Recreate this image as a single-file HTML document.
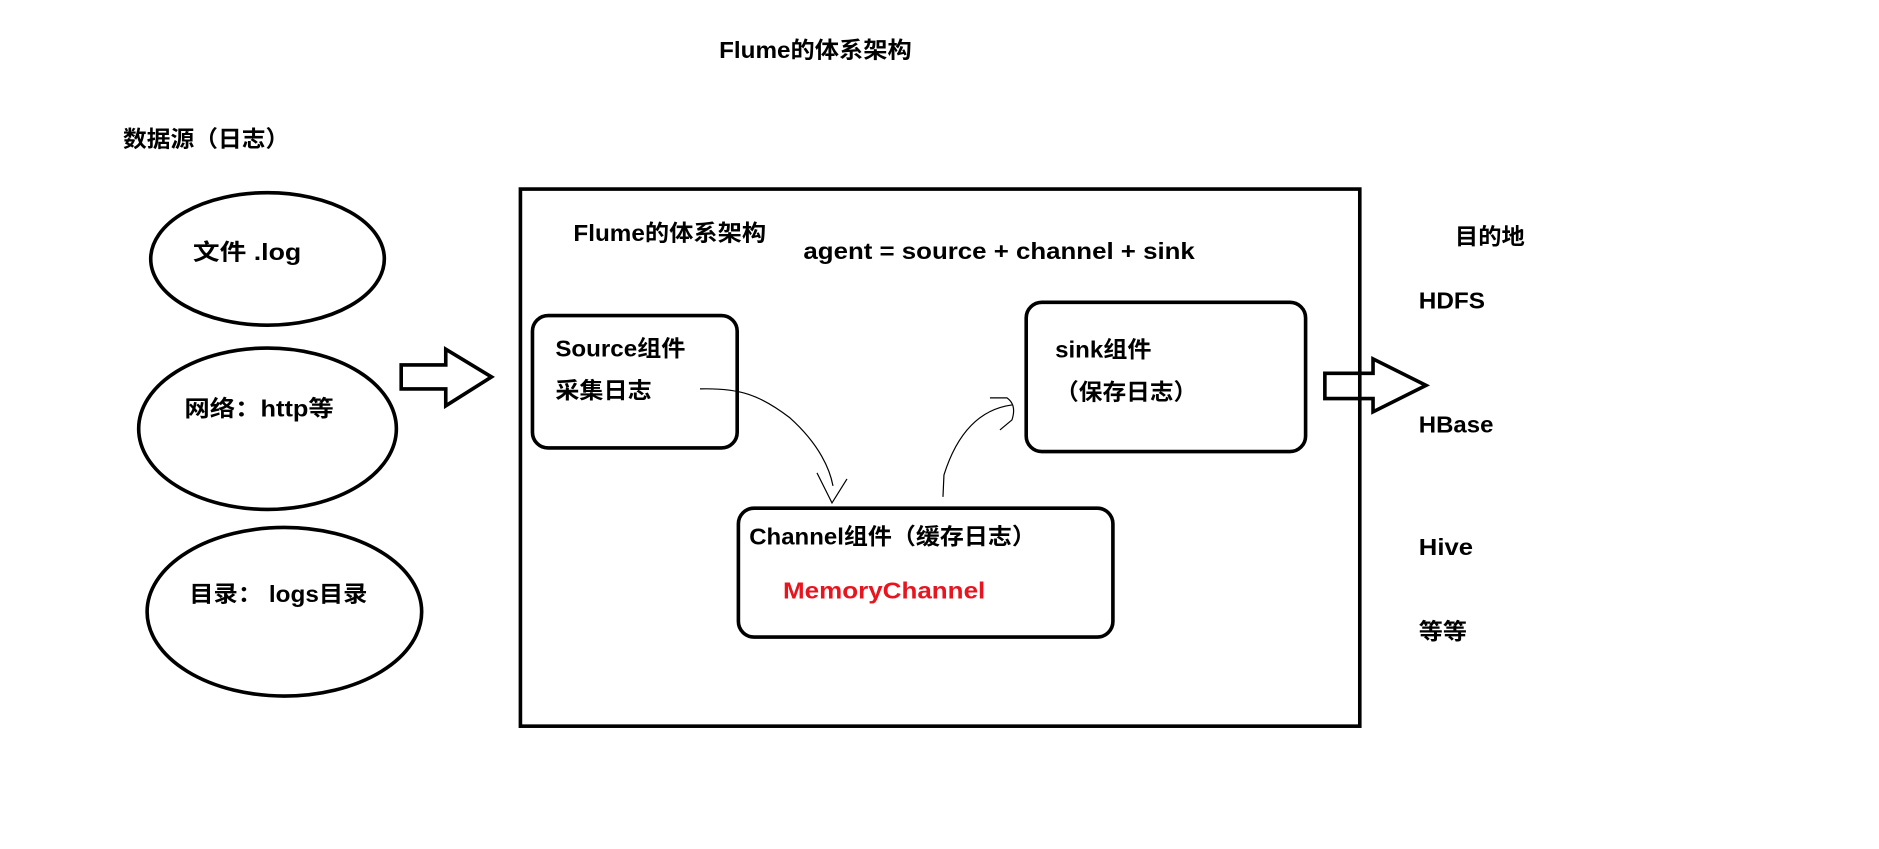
<!DOCTYPE html>
<html><head><meta charset="utf-8"><style>
html,body{margin:0;padding:0;background:#fff;}
svg{display:block;}
text{font-family:"Liberation Sans","Noto Sans CJK SC",sans-serif;font-weight:bold;font-size:19px;fill:#000;}
</style></head><body>
<svg width="1879" height="849" viewBox="0 0 1560 705" xmlns="http://www.w3.org/2000/svg">
<rect x="0" y="0" width="1560" height="705" fill="#fff"/>
<text x="597" y="48" textLength="160" lengthAdjust="spacingAndGlyphs">Flume的体系架构</text>
<text x="102" y="122" textLength="138" lengthAdjust="spacingAndGlyphs">数据源（日志）</text>
<g fill="none" stroke="#000" stroke-width="3">
<ellipse cx="222" cy="215" rx="97" ry="55"/>
<ellipse cx="222" cy="356" rx="107" ry="67"/>
<ellipse cx="236" cy="508" rx="114" ry="70"/>
<path d="M333 303 H370 V290 L408 313 L370 337 V323 H333 Z"/>
<rect x="432" y="157" width="697" height="446"/>
<rect x="442" y="262" width="170" height="110" rx="13"/>
<rect x="852" y="251" width="232" height="124" rx="13"/>
<rect x="613" y="422" width="311" height="107" rx="13"/>
<path d="M1100 310 H1140 V298 L1184 320 L1140 342 V331 H1100 Z"/>
</g>
<g transform="scale(0.8302)" fill="none" stroke="#000" stroke-width="1.2">
<path d="M700 389 C740 388 760 395 790 418 C820 445 830 470 833 486"/>
<path d="M817 473 L832 503 L847 479"/>
<path d="M943 497 L944 475 C955 440 975 410 1012 405"/>
<path d="M990 398 L1007 398 Q1017 405 1012 420 L1000 430"/>
</g>
<text x="160" y="216" textLength="90" lengthAdjust="spacingAndGlyphs">文件 .log</text>
<text x="153" y="346" textLength="124" lengthAdjust="spacingAndGlyphs">网络：http等</text>
<text x="157" y="500" textLength="148" lengthAdjust="spacingAndGlyphs">目录： logs目录</text>
<text x="476" y="200" textLength="160" lengthAdjust="spacingAndGlyphs">Flume的体系架构</text>
<text x="667" y="215" textLength="325" lengthAdjust="spacingAndGlyphs">agent = source + channel + sink</text>
<text x="461" y="296" textLength="108" lengthAdjust="spacingAndGlyphs">Source组件</text>
<text x="461" y="331" textLength="80" lengthAdjust="spacingAndGlyphs">采集日志</text>
<text x="876" y="297" textLength="80" lengthAdjust="spacingAndGlyphs">sink组件</text>
<text x="876" y="332" textLength="118" lengthAdjust="spacingAndGlyphs">（保存日志）</text>
<text x="622" y="452" textLength="238" lengthAdjust="spacingAndGlyphs">Channel组件（缓存日志）</text>
<text x="650" y="497" textLength="168" lengthAdjust="spacingAndGlyphs" style="fill:#e8141e">MemoryChannel</text>
<text x="1208" y="203" textLength="58" lengthAdjust="spacingAndGlyphs">目的地</text>
<text x="1178" y="256" textLength="55" lengthAdjust="spacingAndGlyphs">HDFS</text>
<text x="1178" y="359" textLength="62" lengthAdjust="spacingAndGlyphs">HBase</text>
<text x="1178" y="461" textLength="45" lengthAdjust="spacingAndGlyphs">Hive</text>
<text x="1178" y="531" textLength="40" lengthAdjust="spacingAndGlyphs">等等</text>
</svg>
</body></html>
